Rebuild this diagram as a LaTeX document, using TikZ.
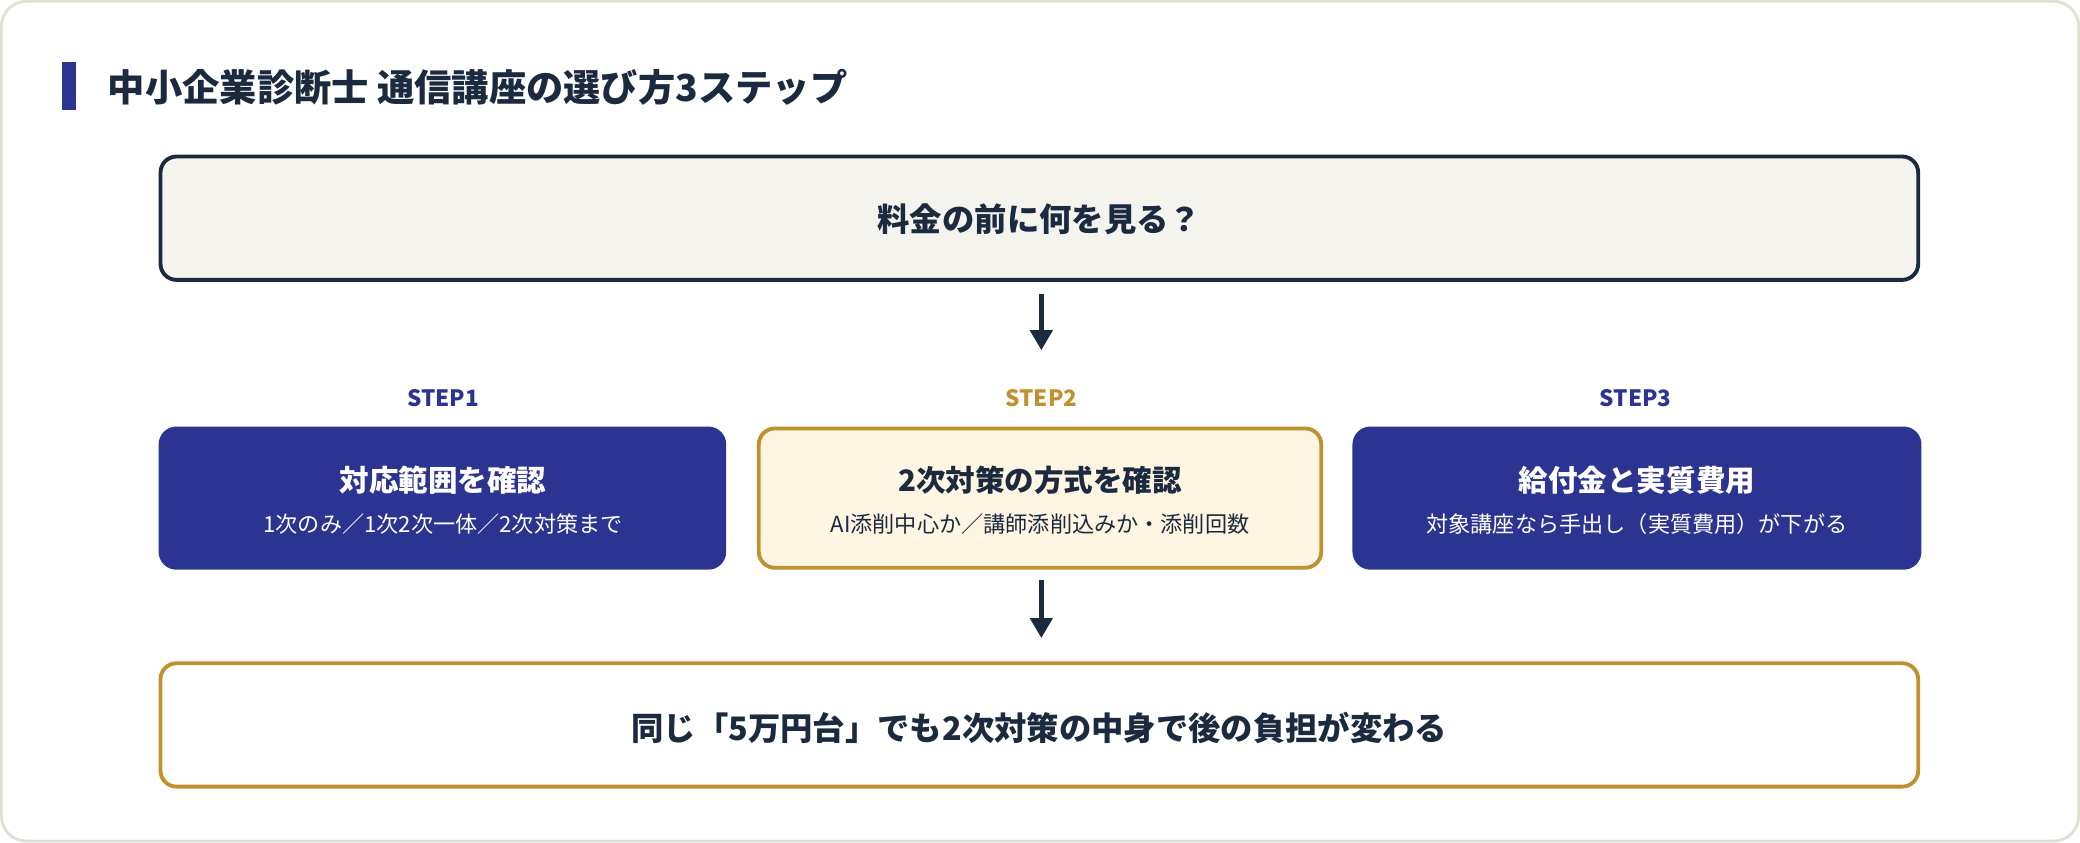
\documentclass[tikz,border=0pt]{standalone}
\usepackage{fontspec}
\setmainfont{Noto Sans CJK JP}
\usetikzlibrary{arrows.meta}
\definecolor{navy}{HTML}{1B2A3F}
\definecolor{blu}{HTML}{2B3490}
\definecolor{gold}{HTML}{C0922F}
\definecolor{cream}{HTML}{FFF5E3}
\definecolor{grayf}{HTML}{F5F3EE}
\definecolor{edge}{HTML}{E2DFD2}
\begin{document}
\begin{tikzpicture}[x=0.013265cm,y=-0.013265cm,
  box/.style={rounded corners=0.16cm,line width=1.1pt},
  arr/.style={draw=navy,line width=1.3pt,-{Triangle[length=0.2cm,width=0.22cm]}},
  steplbl/.style={font=\bfseries\fontsize{6.4}{7}\selectfont},
  ttl/.style={font=\bfseries\fontsize{8.4}{10}\selectfont,text=white},
  sub/.style={font=\fontsize{6.3}{7.5}\selectfont,text=white}]
\useasboundingbox (0,0) rectangle (1568,635);
\draw[edge,fill=white,line width=0.8pt,rounded corners=0.25cm] (1,1) rectangle (1567,634);
\fill[blu] (47,47) rectangle (57,83);
\node[anchor=west,text=navy,font=\bfseries\fontsize{10.6}{12}\selectfont] (title) at (72,66) {中小企業診断士 通信講座の選び方3ステップ};
\draw[box,draw=navy,fill=grayf] (121,118) rectangle (1446,211);
\node[text=navy,font=\bfseries\fontsize{9.2}{11}\selectfont] (top) at (783.5,165) {料金の前に何を見る？};
\coordinate (a1s) at (785,222); \coordinate (a1e) at (785,264);
\draw[arr] (a1s) -- (a1e);
\node[steplbl,text=blu] (s1) at (334,300) {STEP1};
\node[steplbl,text=gold] (s2) at (785,300) {STEP2};
\node[steplbl,text=blu] (s3) at (1233,300) {STEP3};
\draw[box,draw=blu,fill=blu] (121,323) rectangle (546,428);
\draw[box,draw=gold,fill=cream] (572,323) rectangle (996,428);
\draw[box,draw=blu,fill=blu] (1021,323) rectangle (1447,428);
\node[ttl] (b1) at (334,362) {対応範囲を確認};
\node[sub] (b1s) at (334,395) {1次のみ／1次2次一体／2次対策まで};
\node[ttl,text=navy] (b2) at (784,362) {2次対策の方式を確認};
\node[sub,text=navy] (b2s) at (784,395) {AI添削中心か／講師添削込みか・添削回数};
\node[ttl] (b3) at (1234,362) {給付金と実質費用};
\node[sub] (b3s) at (1234,395) {対象講座なら手出し（実質費用）が下がる};
\coordinate (a2s) at (785,437); \coordinate (a2e) at (785,481);
\draw[arr] (a2s) -- (a2e);
\draw[box,draw=gold,fill=white] (121,500) rectangle (1446,593);
\node[text=navy,font=\bfseries\fontsize{9.2}{11}\selectfont] (bot) at (783.5,549) {同じ「5万円台」でも2次対策の中身で後の負担が変わる};
\end{tikzpicture}
\end{document}
